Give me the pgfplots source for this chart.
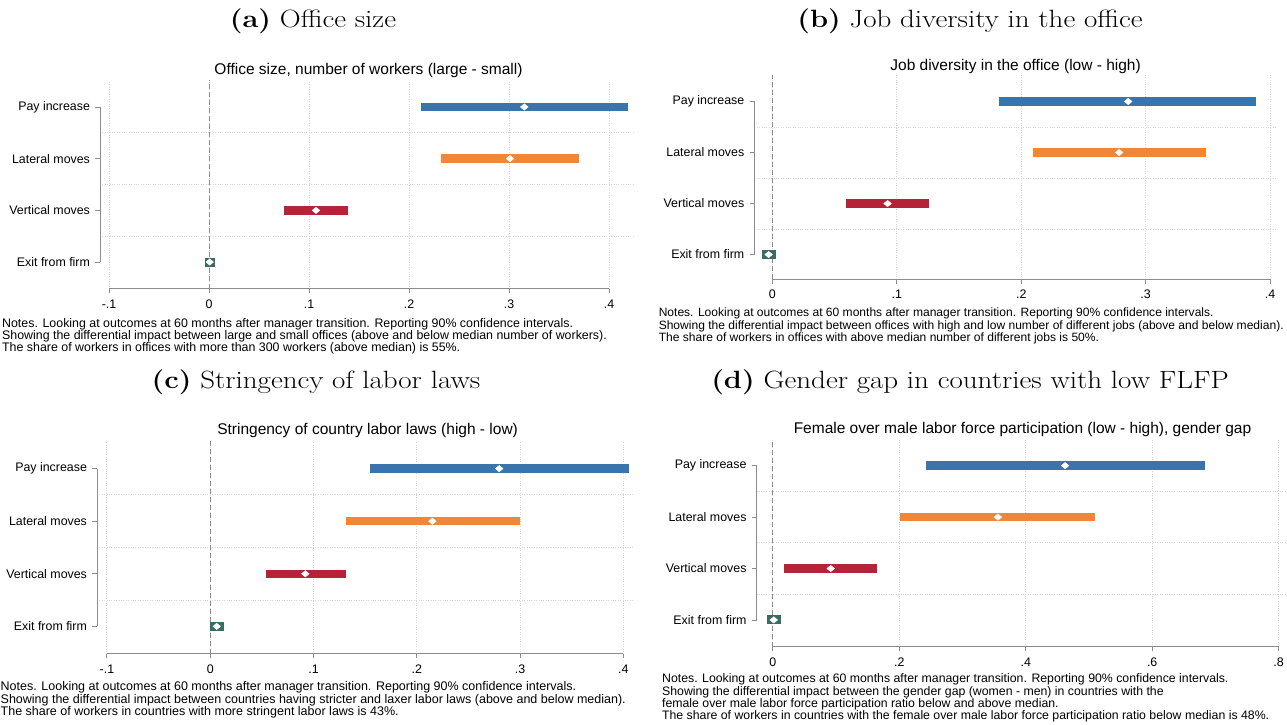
\documentclass[border=0pt]{standalone}
\usepackage{fontspec}
\usepackage{graphicx}
\usepackage{pgfplots}
\pgfplotsset{compat=1.18}
\newfontfamily\plotfont{Liberation Sans}

\definecolor{cBlue}{RGB}{58,116,172}
\definecolor{cOrange}{RGB}{240,134,54}
\definecolor{cRed}{RGB}{180,35,56}
\definecolor{cTeal}{RGB}{58,108,98}
\definecolor{axgray}{RGB}{140,140,140}
\definecolor{gridgray}{RGB}{215,215,215}

\tikzset{
  zeroline/.style={axgray, line width=0.9pt, dash pattern=on 5pt off 3pt},
  axln/.style={axgray, line width=0.9pt},
}

\pgfplotsset{
  coef/.style={
    scale only axis,
    anchor=south west,
    ytick={1,2,3,4},
    yticklabels={Exit from firm,Vertical moves,Lateral moves,Pay increase},
    xtick pos=bottom, ytick pos=left,
    tick align=outside,
    major tick length=4.5pt,
    tick style={axgray, line width=0.9pt},
    axis line style={draw=none},
    xmajorgrids,
    grid style={gridgray, dotted, line width=0.9pt},
    extra y ticks={1.5,2.5,3.5},
    extra y tick labels={},
    extra y tick style={grid=major, major tick length=0pt},
    ticklabel style={font=\plotfont\fontsize{12.4}{14}\selectfont, text=black},
    yticklabel style={xshift=-2pt},
    xticklabel style={yshift=-3pt},
    clip=false,
  },
  bar/.style={line width=8.5pt, mark=none},
  est/.style={only marks, mark=diamond*, mark size=3.2pt, white,
    mark options={xscale=1.6, fill=white, draw=white}},
}

\newcommand{\notefont}[1]{\plotfont\fontsize{#1}{12.4}\selectfont}
\newcommand{\titlefont}{\plotfont\fontsize{15.5}{17}\selectfont}
\newcommand{\subcap}[2]{\scalebox{1.16}[1]{\fontsize{25}{30}\selectfont\textbf{(#1)} #2}}

\begin{document}
\begin{tikzpicture}[x=1pt,y=1pt]
\useasboundingbox (0,0) rectangle (1287,724);

% ---------------- (a) Office size ----------------
\node[inner sep=0] at (313,702.8) {\subcap{a}{Office size}};
\node[inner sep=0] at (368.5,653.2) {\titlefont Office size, number of workers (large - small)};
\begin{axis}[coef, at={(100pt,435.1pt)}, width=533pt, height=208.8pt,
  xmin=-0.109, xmax=0.424, ymin=0.48, ymax=4.52,
  xtick={-0.1,0,0.1,0.2,0.3,0.4}, xticklabels={-.1,0,.1,.2,.3,.4}]
  \draw[zeroline] (axis cs:0,0.48) -- (axis cs:0,4.52);
  \addplot[bar, cBlue]   coordinates {(0.2117,4) (0.4190,4)};
  \addplot[bar, cOrange] coordinates {(0.2323,3) (0.3697,3)};
  \addplot[bar, cRed]    coordinates {(0.0753,2) (0.1390,2)};
  \addplot[bar, cTeal, line width=9pt] coordinates {(-0.0043,1) (0.0057,1)};
  \addplot[est] coordinates {(0.3153,4) (0.3010,3) (0.1070,2) (0.0007,1)};
  \draw[axln] (axis cs:-0.1,0.48) -- (axis cs:0.4,0.48);
  \draw[axln] (axis cs:-0.109,1) -- (axis cs:-0.109,4);
\end{axis}
\node[anchor=base west, inner sep=0] at (-1.5,724-327.4) {\notefont{12.4} Notes. Looking at outcomes at 60 months after manager transition. Reporting 90\% confidence intervals.};
\node[anchor=base west, inner sep=0] at (-1.5,724-339.6) {\notefont{12.4} Showing the differential impact between large and small offices (above and below median number of workers).};
\node[anchor=base west, inner sep=0] at (-1.5,724-351.8) {\notefont{12.4} The share of workers in offices with more than 300 workers (above median) is 55\%.};

% ---------------- (b) Job diversity ----------------
\node[inner sep=0] at (970,702.8) {\subcap{b}{Job diversity in the office}};
\node[inner sep=0] at (1015.6,657.9) {\titlefont Job diversity in the office (low - high)};
\begin{axis}[coef, at={(754.3pt,444.7pt)}, width=522pt, height=204.6pt,
  xmin=-0.0145, xmax=0.405, ymin=0.515, ymax=4.525,
  xtick={0,0.1,0.2,0.3,0.4}, xticklabels={0,.1,.2,.3,.4}]
  \draw[zeroline] (axis cs:0,0.515) -- (axis cs:0,4.525);
  \addplot[bar, cBlue]   coordinates {(0.1825,4) (0.3890,4)};
  \addplot[bar, cOrange] coordinates {(0.2096,3) (0.3483,3)};
  \addplot[bar, cRed]    coordinates {(0.0593,2) (0.1255,2)};
  \addplot[bar, cTeal, line width=9pt] coordinates {(-0.0080,1) (0.0028,1)};
  \addplot[est] coordinates {(0.2860,4) (0.2787,3) (0.0926,2) (-0.0030,1)};
  \draw[axln] (axis cs:0,0.515) -- (axis cs:0.4,0.515);
  \draw[axln] (axis cs:-0.0145,1) -- (axis cs:-0.0145,4);
\end{axis}
\node[anchor=base west, inner sep=0] at (655.2,724-316.7) {\notefont{12.05} Notes. Looking at outcomes at 60 months after manager transition. Reporting 90\% confidence intervals.};
\node[anchor=base west, inner sep=0] at (655.2,724-329) {\notefont{12.05} Showing the differential impact between offices with high and low number of different jobs (above and below median).};
\node[anchor=base west, inner sep=0] at (655.2,724-341.2) {\notefont{12.05} The share of workers in offices with above median number of different jobs is 50\%.};

% ---------------- (c) Labor laws ----------------
\node[inner sep=0] at (316,341.8) {\subcap{c}{Stringency of labor laws}};
\node[inner sep=0] at (367.6,293.2) {\titlefont Stringency of country labor laws (high - low)};
\begin{axis}[coef, at={(97pt,70.3pt)}, width=536.7pt, height=212.4pt,
  xmin=-0.1096, xmax=0.41, ymin=0.48, ymax=4.52,
  xtick={-0.1,0,0.1,0.2,0.3,0.4}, xticklabels={-.1,0,.1,.2,.3,.4}]
  \draw[zeroline] (axis cs:0,0.48) -- (axis cs:0,4.52);
  \addplot[bar, cBlue]   coordinates {(0.1548,4) (0.4050,4)};
  \addplot[bar, cOrange] coordinates {(0.1317,3) (0.2996,3)};
  \addplot[bar, cRed]    coordinates {(0.0544,2) (0.1310,2)};
  \addplot[bar, cTeal, line width=9pt] coordinates {(-0.0004,1) (0.0135,1)};
  \addplot[est] coordinates {(0.2798,4) (0.2151,3) (0.0921,2) (0.0063,1)};
  \draw[axln] (axis cs:-0.1,0.48) -- (axis cs:0.4,0.48);
  \draw[axln] (axis cs:-0.1096,1) -- (axis cs:-0.1096,4);
\end{axis}
\node[anchor=base west, inner sep=0] at (-3,724-690.8) {\notefont{12.5} Notes. Looking at outcomes at 60 months after manager transition. Reporting 90\% confidence intervals.};
\node[anchor=base west, inner sep=0] at (-3,724-703) {\notefont{12.5} Showing the differential impact between countries having stricter and laxer labor laws (above and below median).};
\node[anchor=base west, inner sep=0] at (-3,724-715.4) {\notefont{12.5} The share of workers in countries with more stringent labor laws is 43\%.};

% ---------------- (d) FLFP ----------------
\node[inner sep=0] at (970,341.8) {\subcap{d}{Gender gap in countries with low FLFP}};
\node[inner sep=0] at (1022.5,294.9) {\titlefont Female over male labor force participation (low - high), gender gap};
\begin{axis}[coef, at={(756.5pt,77.3pt)}, width=528.4pt, height=207.8pt,
  xmin=-0.026, xmax=0.81, ymin=0.48, ymax=4.52,
  xtick={0,0.2,0.4,0.6,0.8}, xticklabels={0,.2,.4,.6,.8}]
  \draw[zeroline] (axis cs:0,0.48) -- (axis cs:0,4.52);
  \addplot[bar, cBlue]   coordinates {(0.2418,4) (0.6830,4)};
  \addplot[bar, cOrange] coordinates {(0.2016,3) (0.5100,3)};
  \addplot[bar, cRed]    coordinates {(0.0169,2) (0.1653,2)};
  \addplot[bar, cTeal, line width=9pt] coordinates {(-0.0097,1) (0.0123,1)};
  \addplot[est] coordinates {(0.4622,4) (0.3560,3) (0.0914,2) (0.0013,1)};
  \draw[axln] (axis cs:0,0.48) -- (axis cs:0.8,0.48);
  \draw[axln] (axis cs:-0.026,1) -- (axis cs:-0.026,4);
\end{axis}
\node[anchor=base west, inner sep=0] at (658.5,724-682.7) {\notefont{12.3} Notes. Looking at outcomes at 60 months after manager transition. Reporting 90\% confidence intervals.};
\node[anchor=base west, inner sep=0] at (658.5,724-695.1) {\notefont{12.3} Showing the differential impact between the gender gap (women - men) in countries with the};
\node[anchor=base west, inner sep=0] at (658.5,724-707.5) {\notefont{12.3} female over male labor force participation ratio below and above median.};
\node[anchor=base west, inner sep=0] at (658.5,724-719.9) {\notefont{12.3} The share of workers in countries with the female over male labor force participation ratio below median is 48\%.};
\end{tikzpicture}
\end{document}
